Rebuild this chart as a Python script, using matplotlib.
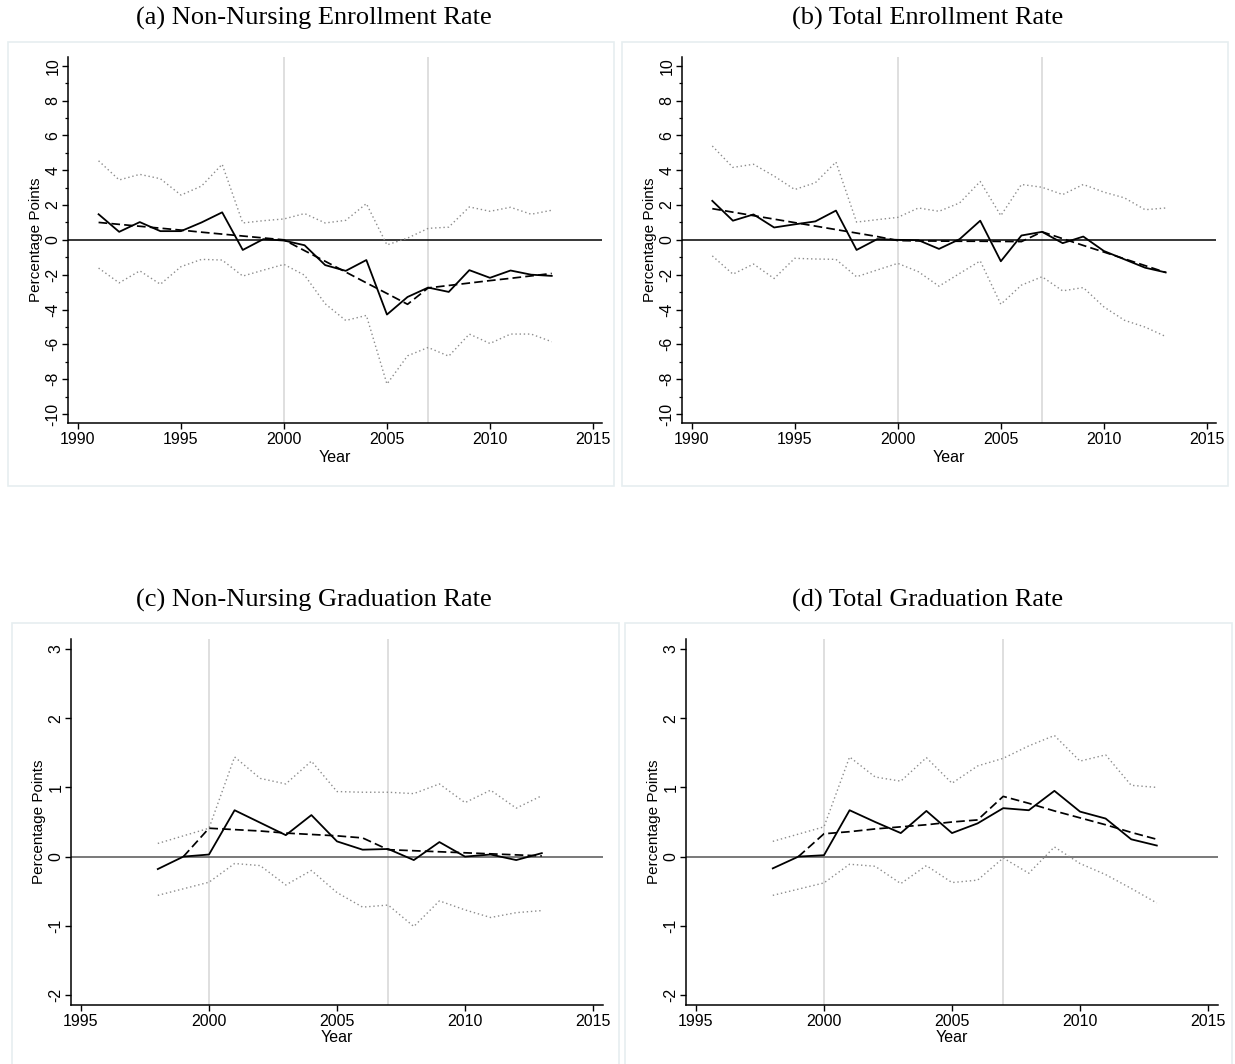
import numpy as np
import matplotlib
matplotlib.use("Agg")
import matplotlib.pyplot as plt
from matplotlib.patches import Rectangle
from matplotlib.ticker import MultipleLocator

# ---------------- data ----------------
years_ab = list(range(1991, 2014))

a_est = [1.47, 0.46, 1.02, 0.50, 0.50, 1.00, 1.58, -0.58, 0.04, -0.04, -0.31, -1.45,
         -1.78, -1.16, -4.29, -3.28, -2.74, -2.99, -1.74, -2.18, -1.76, -2.00, -2.07]
a_fit = [1.00, 0.89, 0.78, 0.67, 0.56, 0.44, 0.33, 0.22, 0.11, 0.00, -0.62, -1.23,
         -1.85, -2.47, -3.08, -3.70, -2.76, -2.62, -2.48, -2.34, -2.21, -2.07, -1.93]
a_hi = [4.54, 3.44, 3.76, 3.51, 2.57, 3.09, 4.34, 0.97, 1.10, 1.20, 1.51, 0.97,
        1.12, 2.08, -0.29, 0.10, 0.66, 0.73, 1.89, 1.64, 1.87, 1.47, 1.70]
a_lo = [-1.62, -2.47, -1.78, -2.55, -1.54, -1.12, -1.16, -2.08, -1.74, -1.41, -2.03, -3.67,
        -4.63, -4.34, -8.28, -6.66, -6.18, -6.68, -5.41, -5.95, -5.41, -5.41, -5.85]

b_est = [2.24, 1.10, 1.46, 0.71, 0.89, 1.06, 1.68, -0.58, 0.04, 0.00, -0.02, -0.52,
         0.04, 1.10, -1.23, 0.25, 0.46, -0.19, 0.19, -0.64, -1.12, -1.60, -1.87]
b_fit = [1.79, 1.59, 1.39, 1.19, 0.99, 0.79, 0.59, 0.39, 0.19, -0.04, -0.06, -0.07,
         -0.08, -0.08, -0.09, -0.10, 0.46, 0.07, -0.32, -0.70, -1.09, -1.48, -1.87]
b_hi = [5.39, 4.16, 4.34, 3.66, 2.89, 3.28, 4.47, 1.02, 1.16, 1.29, 1.83, 1.64,
        2.12, 3.35, 1.39, 3.18, 3.02, 2.60, 3.18, 2.74, 2.41, 1.73, 1.83]
b_lo = [-0.92, -1.97, -1.39, -2.22, -1.06, -1.10, -1.12, -2.12, -1.73, -1.35, -1.83, -2.66,
        -1.93, -1.21, -3.70, -2.60, -2.12, -2.93, -2.74, -3.85, -4.62, -5.01, -5.55]

years_cd = list(range(1998, 2014))
fit_years_cd = list(range(1999, 2014))
ci_years_cd = [1998] + list(range(2000, 2014))

c_est = [-0.18, 0.00, 0.03, 0.67, 0.49, 0.31, 0.60, 0.22, 0.10, 0.11, -0.05, 0.21,
         0.00, 0.03, -0.05, 0.05]
c_fit = [0.00, 0.41, 0.39, 0.37, 0.34, 0.32, 0.30, 0.27, 0.10, 0.085, 0.07, 0.055,
         0.04, 0.025, 0.01]
c_hi = [0.19, 0.41, 1.44, 1.13, 1.05, 1.38, 0.94, 0.93, 0.93, 0.91, 1.05, 0.78,
        0.96, 0.70, 0.88]
c_lo = [-0.56, -0.37, -0.10, -0.13, -0.41, -0.20, -0.52, -0.73, -0.70, -1.01, -0.64, -0.77,
        -0.88, -0.81, -0.78]

d_est = [-0.17, 0.00, 0.02, 0.67, 0.50, 0.34, 0.66, 0.34, 0.48, 0.70, 0.67, 0.95,
         0.65, 0.55, 0.25, 0.16]
d_fit = [0.00, 0.33, 0.36, 0.40, 0.43, 0.46, 0.50, 0.53, 0.87, 0.77, 0.66, 0.56,
         0.46, 0.35, 0.25]
d_hi = [0.22, 0.43, 1.44, 1.15, 1.09, 1.43, 1.06, 1.31, 1.42, 1.60, 1.75, 1.38,
        1.47, 1.03, 1.00]
d_lo = [-0.56, -0.38, -0.11, -0.14, -0.39, -0.13, -0.375, -0.34, -0.02, -0.24, 0.14, -0.10,
        -0.26, -0.46, -0.67]

titles = ["(a) Non-Nursing Enrollment Rate", "(b) Total Enrollment Rate",
          "(c) Non-Nursing Graduation Rate", "(d) Total Graduation Rate"]
policy_years = [2000, 2007]
ylabel = "Percentage Points"
xlabel = "Year"

# ---------------- layout ----------------
W, H = 1235, 1064
fig = plt.figure(figsize=(W / 100, H / 100), dpi=100)
fig.patch.set_facecolor("white")

SANS = ["Liberation Sans", "DejaVu Sans"]
SERIF = ["Liberation Serif", "DejaVu Serif"]


def rect(l, r, t, b):
    return [l / W, 1 - b / H, (r - l) / W, (b - t) / H]


def box(l, r, t, b):
    fig.patches.append(Rectangle((l / W, 1 - b / H), (r - l) / W, (b - t) / H,
                                 transform=fig.transFigure, fill=False,
                                 edgecolor="#e6eef0", linewidth=1.2, zorder=0))


panels = [
    dict(pos=(68.3, 602, 57, 422.7), box=(8, 614, 42, 486), years=years_ab, fit_years=years_ab,
         ci_years=years_ab, est=a_est, fit=a_fit, hi=a_hi, lo=a_lo,
         xlim=(1989.53, 2015.44), ylim=(-10.5, 10.5), yt=np.arange(-10, 11, 2),
         minor=True, xt=[1990, 1995, 2000, 2005, 2010, 2015], title_y=25, title_x=314,
         ylab_y=240, xlab_y=457, zcol="black"),
    dict(pos=(682, 1216, 57, 422.7), box=(622, 1228, 42, 486), years=years_ab, fit_years=years_ab,
         ci_years=years_ab, est=b_est, fit=b_fit, hi=b_hi, lo=b_lo,
         xlim=(1989.53, 2015.44), ylim=(-10.5, 10.5), yt=np.arange(-10, 11, 2),
         minor=True, xt=[1990, 1995, 2000, 2005, 2010, 2015], title_y=25, title_x=928,
         ylab_y=240, xlab_y=457, zcol="black"),
    dict(pos=(71, 603, 638.6, 1005.4), box=(12, 619, 623, 1075), years=years_cd,
         fit_years=fit_years_cd, ci_years=ci_years_cd, est=c_est, fit=c_fit, hi=c_hi, lo=c_lo,
         xlim=(1994.61, 2015.39), ylim=(-2.15, 3.15), yt=np.arange(-2, 4, 1),
         minor=False, xt=[1995, 2000, 2005, 2010, 2015], title_y=607, title_x=314,
         ylab_y=822, xlab_y=1037, zcol="#555555"),
    dict(pos=(686, 1218, 638.6, 1005.4), box=(625, 1232, 623, 1075), years=years_cd,
         fit_years=fit_years_cd, ci_years=ci_years_cd, est=d_est, fit=d_fit, hi=d_hi, lo=d_lo,
         xlim=(1994.61, 2015.39), ylim=(-2.15, 3.15), yt=np.arange(-2, 4, 1),
         minor=False, xt=[1995, 2000, 2005, 2010, 2015], title_y=607, title_x=928,
         ylab_y=822, xlab_y=1037, zcol="#555555"),
]

for p, title in zip(panels, titles):
    l, r, t, b = p["pos"]
    box(*p["box"])
    ax = fig.add_axes(rect(l, r, t, b))
    ax.set_facecolor("none")
    for yr in policy_years:
        ax.axvline(yr, color="#dcdcdc", lw=1.3, zorder=1)
    ax.axhline(0, color=p["zcol"], lw=1.1, zorder=2)
    ax.plot(p["ci_years"], p["hi"], color="#8c8c8c", lw=1.0, ls=(0, (1, 2)), zorder=3)
    ax.plot(p["ci_years"], p["lo"], color="#8c8c8c", lw=1.0, ls=(0, (1, 2)), zorder=3)
    ax.plot(p["fit_years"], p["fit"], color="black", lw=1.25, dashes=(5, 2.4), zorder=4)
    ax.plot(p["years"], p["est"], color="black", lw=1.3, zorder=5)

    ax.set_xlim(*p["xlim"])
    ax.set_ylim(*p["ylim"])
    ax.set_xticks(p["xt"])
    ax.set_yticks(p["yt"])
    ax.set_yticklabels([str(int(v)) for v in p["yt"]])
    if p["minor"]:
        ax.yaxis.set_minor_locator(MultipleLocator(1))
    for s in ["top", "right"]:
        ax.spines[s].set_visible(False)
    for s in ["left", "bottom"]:
        ax.spines[s].set_linewidth(1.1)
    ax.tick_params(axis="both", which="major", length=4, width=1.0, pad=2.5,
                   labelsize=11.5, direction="out")
    ax.tick_params(axis="y", which="major", pad=1.5)
    ax.tick_params(axis="y", which="minor", length=2.5, width=0.9)
    ax.tick_params(axis="y", labelrotation=90)
    for lab in ax.get_xticklabels() + ax.get_yticklabels():
        lab.set_family(SANS)
    for lab in ax.get_yticklabels():
        lab.set_va("center")

    cx = (l + r) / 2
    fig.text(cx / W, 1 - p["xlab_y"] / H, xlabel, ha="center", va="center",
             fontsize=11.5, family=SANS)
    fig.text((l - 32) / W, 1 - p["ylab_y"] / H, ylabel, ha="center", va="center",
             rotation=90, fontsize=11, family=SANS)
    fig.text(p["title_x"] / W, 1 - p["title_y"] / H, title, ha="center",
             va="baseline", fontsize=19, family=SERIF)

fig.savefig("out.png", dpi=100, facecolor="white")
